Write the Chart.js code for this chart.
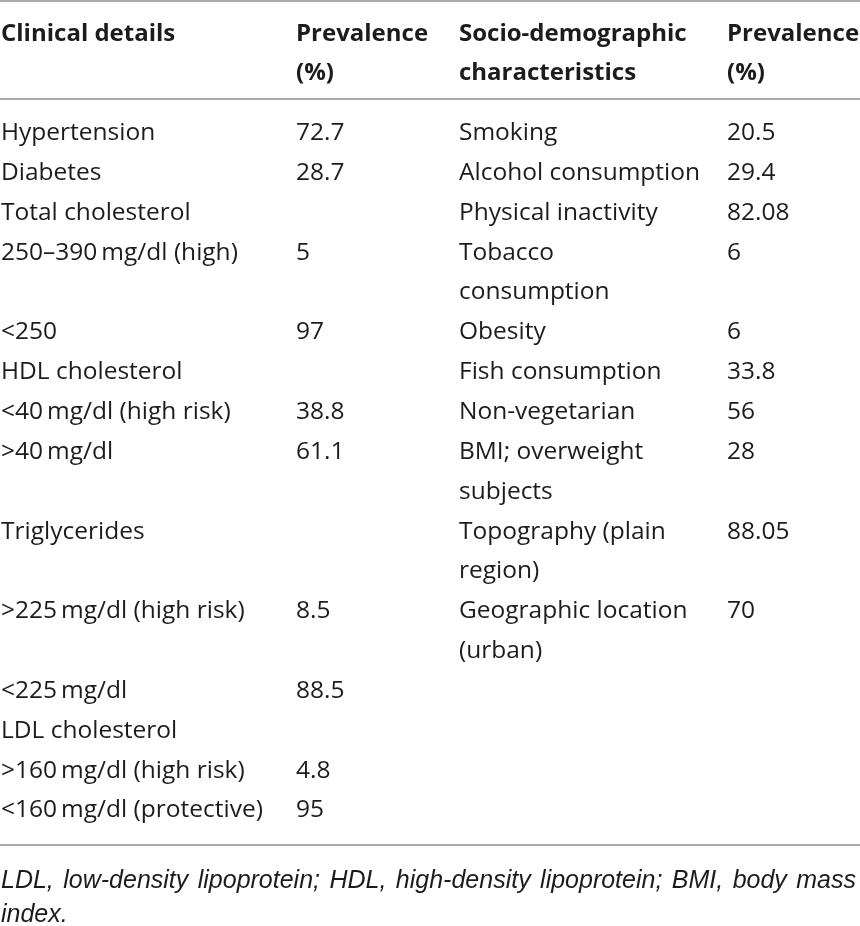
<!DOCTYPE html>
<html>
<head>
<meta charset="utf-8">
<title>Clinical details and socio-demographic characteristics</title>
<script src="https://cdn.jsdelivr.net/npm/chart.js@4.4.1/dist/chart.umd.min.js"></script>
<style>
  html, body { margin: 0; padding: 0; background: #fff; }
  #wrap { width: 860px; height: 926px; position: relative; }
</style>
</head>
<body>
<div id="wrap"><canvas id="tabla"></canvas></div>
<script>
// ---- data ----
const headers = ['Clinical details', 'Prevalence\n(%)', 'Socio-demographic\ncharacteristics', 'Prevalence\n(%)'];

const clinicalLabels = [
  'Hypertension', 'Diabetes', 'Total cholesterol', '250–390\u2009mg/dl (high)', '<250',
  'HDL cholesterol', '<40\u2009mg/dl (high risk)', '>40\u2009mg/dl', 'Triglycerides',
  '>225\u2009mg/dl (high risk)', '<225\u2009mg/dl', 'LDL cholesterol',
  '>160\u2009mg/dl (high risk)', '<160\u2009mg/dl (protective)'
];
const clinicalValues = [72.7, 28.7, null, 5, 97, null, 38.8, 61.1, null, 8.5, 88.5, null, 4.8, 95];

const socioLabels = [
  'Smoking', 'Alcohol consumption', 'Physical inactivity', 'Tobacco\nconsumption', 'Obesity',
  'Fish consumption', 'Non-vegetarian', 'BMI; overweight\nsubjects', 'Topography (plain\nregion)',
  'Geographic location\n(urban)'
];
const socioValues = [20.5, 29.4, 82.08, 6, 6, 33.8, 56, 28, 88.05, 70];

const footnote = 'LDL, low-density lipoprotein; HDL, high-density lipoprotein; BMI, body mass\nindex.';

// ---- layout (pixels -> line units) ----
const W = 860, H = 926;
const LINE = 39.85;      // line pitch
const TOP = 140;         // baseline of first body line
const COL_X = [1, 296, 459, 727];
const toLine = px => (px - TOP) / LINE;

const BODY_FONT = '24.5px "Open Sans", "Liberation Sans", sans-serif';
const HEAD_FONT = 'bold 24px "Open Sans", "Liberation Sans", sans-serif';
const NOTE_FONT = 'italic 25px "Liberation Sans", "Open Sans", sans-serif';

// build cells row by row, a row is as tall as its longest cell
const cellsClin = [], cellsClinVal = [], cellsSocio = [], cellsSocioVal = [];
let line = 0;
clinicalLabels.forEach((lab, i) => {
  const cLines = lab.split('\n');
  const sLines = i < socioLabels.length ? socioLabels[i].split('\n') : [];
  cLines.forEach((t, j) => cellsClin.push({ x: COL_X[0], y: line + j, t }));
  if (clinicalValues[i] !== null) cellsClinVal.push({ x: COL_X[1], y: line, t: String(clinicalValues[i]) });
  sLines.forEach((t, j) => cellsSocio.push({ x: COL_X[2], y: line + j, t }));
  if (i < socioValues.length) cellsSocioVal.push({ x: COL_X[3], y: line, t: String(socioValues[i]) });
  line += Math.max(cLines.length, sLines.length, 1);
});

const headCells = [];
headers.forEach((h, k) => {
  h.split('\n').forEach((t, j) => headCells.push({ x: COL_X[k], y: toLine(40.5) + j * 0.99, t }));
});

const noteLines = footnote.split('\n');
const noteCells = noteLines.map((t, j) => ({
  x: 1, y: toLine(888) + j * (34 / LINE), t, justify: j < noteLines.length - 1
}));

const rule = px => [{ x: 0, y: toLine(px) }, { x: W, y: toLine(px) }];

function textSet(data, font) {
  return { data, font, textColor: '#1c1c1c', pointRadius: 0, showLine: false };
}
function ruleSet(data) {
  return { data, showLine: true, borderColor: '#ababab', borderWidth: 2, pointRadius: 0, fill: false };
}

// draws the text of each point at the pixel the scales give it
const cellText = {
  id: 'cellText',
  afterDatasetsDraw(chart) {
    const ctx = chart.ctx;
    chart.data.datasets.forEach((ds, di) => {
      if (!ds.font) return;
      const meta = chart.getDatasetMeta(di);
      ctx.save();
      ctx.font = ds.font;
      ctx.fillStyle = ds.textColor;
      ctx.textAlign = 'left';
      ctx.textBaseline = 'alphabetic';
      meta.data.forEach((el, i) => {
        const p = ds.data[i];
        if (p.justify) {
          const words = p.t.split(' ');
          const widths = words.map(w => ctx.measureText(w).width);
          const sum = widths.reduce((a, b) => a + b, 0);
          const right = chart.scales.x.getPixelForValue(856);
          const gap = (right - el.x - sum) / (words.length - 1);
          let x = el.x;
          words.forEach((w, k) => { ctx.fillText(w, x, el.y); x += widths[k] + gap; });
        } else {
          ctx.fillText(p.t, el.x, el.y);
        }
      });
      ctx.restore();
    });
  }
};

new Chart(document.getElementById('tabla'), {
  type: 'scatter',
  data: {
    datasets: [
      ruleSet(rule(1)),
      ruleSet(rule(99)),
      ruleSet(rule(845)),
      textSet(headCells, HEAD_FONT),
      textSet(cellsClin, BODY_FONT),
      textSet(cellsClinVal, BODY_FONT),
      textSet(cellsSocio, BODY_FONT),
      textSet(cellsSocioVal, BODY_FONT),
      textSet(noteCells, NOTE_FONT)
    ]
  },
  options: {
    responsive: true,
    maintainAspectRatio: false,
    animation: false,
    events: [],
    layout: { padding: 0 },
    plugins: { legend: { display: false }, tooltip: { enabled: false } },
    scales: {
      x: { type: 'linear', min: 0, max: W, display: false },
      y: { type: 'linear', min: toLine(0), max: toLine(H), reverse: true, display: false }
    }
  },
  plugins: [cellText]
});
</script>
</body>
</html>
